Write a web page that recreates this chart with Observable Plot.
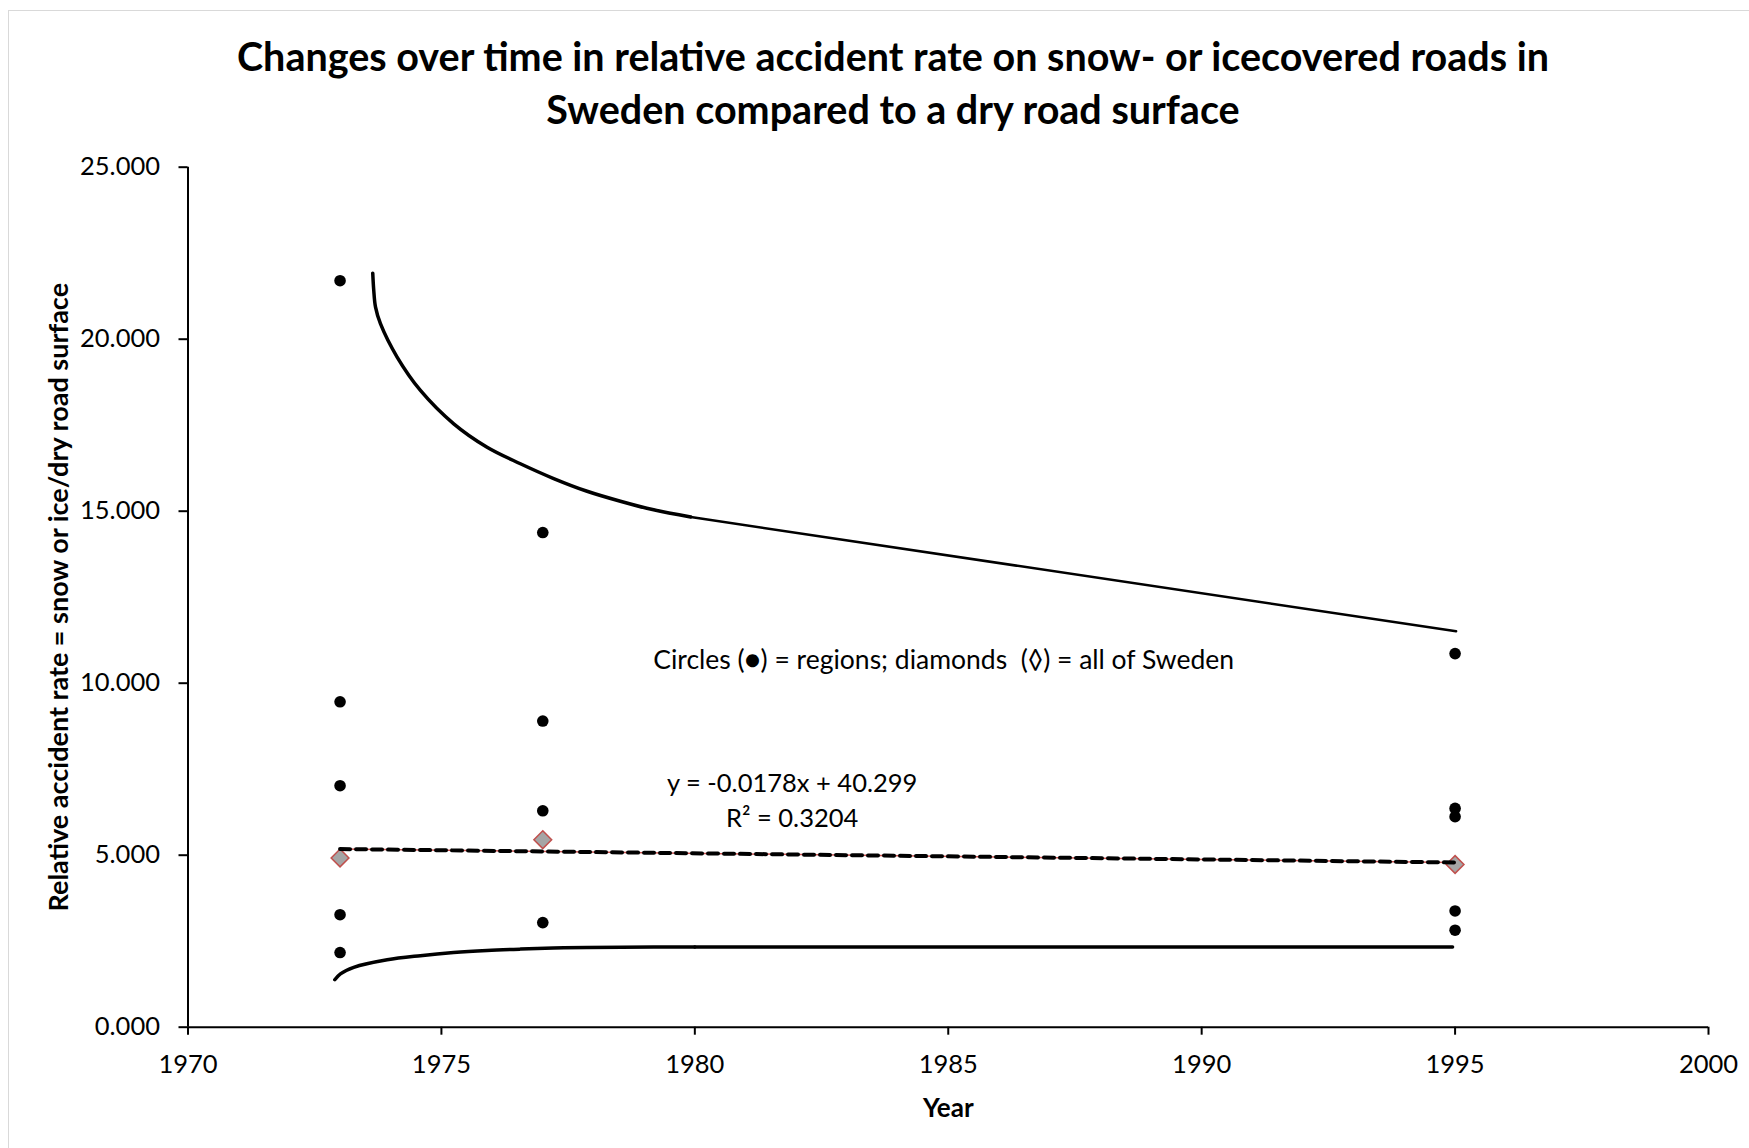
<!DOCTYPE html>
<html>
<head>
<meta charset="utf-8">
<script src="https://cdn.jsdelivr.net/npm/d3@7"></script>
<script src="https://cdn.jsdelivr.net/npm/@observablehq/plot@0.6"></script>
<style>
  html, body { margin: 0; padding: 0; background: #fff; }
  #chart { position: relative; width: 1749px; height: 1148px; overflow: hidden; background: #fff; font-family: Lato, "Open Sans", sans-serif; color: #000; }
  #frame { position: absolute; left: 8px; top: 10px; width: 1800px; height: 1200px; border: 1px solid #d9d9d9; }
  #title { position: absolute; left: 37px; top: 28.5px; width: 1712px; text-align: center; font-weight: 700; font-size: 39.5px; line-height: 53px; }
  #plot { position: absolute; left: 0; top: 140px; }
  #plot g[aria-label="x-axis label"] { font-weight: 700; font-size: 26px; }
  #plot g[aria-label="y-axis label"] { font-weight: 700; font-size: 27px; }
</style>
</head>
<body>
<div id="chart">
  <div id="frame"></div>
  <div id="title">Changes over time in relative accident rate on snow- or icecovered roads in<br>Sweden compared to a dry road surface</div>
  <div id="plot"></div>
</div>
<script>
// Regional relative accident rates (snow/ice vs. dry road)
const regionYears = [1973, 1973, 1973, 1973, 1973, 1977, 1977, 1977, 1977, 1995, 1995, 1995, 1995, 1995];
const regionRates = [21.70, 9.46, 7.02, 3.27, 2.17, 14.38, 8.90, 6.29, 3.04, 10.86, 6.36, 6.12, 3.38, 2.82];

// National (all of Sweden) relative accident rate
const swedenYears = [1973, 1977, 1995];
const swedenRates = [4.92, 5.45, 4.73];

// Linear trend fitted to the national values
const trendSlope = -0.0178;
const trendIntercept = 40.299;
const trendR2 = 0.3204;
const trendYears = [1973, 1995];

// Upper envelope: curved part, then straight part
const upperCurveYears = [1973.645, 1973.665, 1973.70, 1973.797, 1974.126, 1974.586, 1975.243, 1975.901, 1976.558, 1977.215, 1977.874, 1978.531, 1979.187, 1979.92];
const upperCurveRates = [21.92, 21.42, 20.93, 20.45, 19.48, 18.51, 17.54, 16.86, 16.38, 15.95, 15.58, 15.29, 15.04, 14.83];
const upperTailYears = [1979.92, 1995.02];
const upperTailRates = [14.83, 11.51];

// Lower envelope: curved part, then flat part
const lowerCurveYears = [1972.896, 1973.008, 1973.27, 1973.93, 1974.586, 1975.24, 1975.90, 1976.56, 1977.21, 1977.87, 1979.19, 1980.0];
const lowerCurveRates = [1.38, 1.55, 1.74, 1.96, 2.08, 2.17, 2.23, 2.27, 2.30, 2.32, 2.33, 2.33];
const lowerTailYears = [1980.0, 1994.95];
const lowerTailRates = [2.33, 2.33];

// Axis ticks
const xTicks = [1970, 1975, 1980, 1985, 1990, 1995, 2000];
const yTicks = [0, 5, 10, 15, 20, 25];

// Annotation texts
const noteText = "Circles (\u25CF) = regions; diamonds \u00A0(\u25CA) = all of Sweden";
const equationText = `y = ${trendSlope}x + ${trendIntercept}`;
const r2Text = `R\u00B2 = ${trendR2}`;

// Build tables for the marks
const zip = (ys, vs) => ys.map((year, i) => ({year, rate: vs[i]}));
const regions = zip(regionYears, regionRates);
const sweden = zip(swedenYears, swedenRates);
const trend = trendYears.map(year => ({year, rate: trendSlope * year + trendIntercept}));
const upperCurve = zip(upperCurveYears, upperCurveRates);
const upperTail = zip(upperTailYears, upperTailRates);
const lowerCurve = zip(lowerCurveYears, lowerCurveRates);
const lowerTail = zip(lowerTailYears, lowerTailRates);

// Where the annotations sit, in data coordinates
const placement = {
  note: {year: 1984.91, rate: 10.66},
  equation: {year: 1981.92, rate: 7.08},
  r2: {year: 1981.92, rate: 6.07}
};

const chart = Plot.plot({
  width: 1749,
  height: 1008,
  marginTop: 26.7,
  marginBottom: 121.3,
  marginLeft: 187.5,
  marginRight: 41,
  style: {fontFamily: "Lato, 'Open Sans', sans-serif", fontSize: "25.5px", color: "#000", background: "transparent"},
  x: {domain: [1970, 2000]},
  y: {domain: [0, 25]},
  marks: [
    Plot.axisX({ticks: xTicks, tickFormat: d3.format("d"), tickSize: 8, tickPadding: 20, strokeWidth: 2,
      label: "Year", labelAnchor: "center", labelArrow: "none", labelOffset: 90}),
    Plot.axisY({ticks: yTicks, tickFormat: d3.format(".3f"), tickSize: 9, tickPadding: 19, strokeWidth: 2,
      label: "Relative accident rate = snow or ice/dry road surface", labelAnchor: "center", labelArrow: "none", labelOffset: 139}),
    Plot.ruleX([1970], {y1: 0, y2: 25, stroke: "#000", strokeWidth: 2}),
    Plot.ruleY([0], {x1: 1970, x2: 2000, stroke: "#000", strokeWidth: 2}),
    Plot.line(upperCurve, {x: "year", y: "rate", curve: "catmull-rom", stroke: "#000", strokeWidth: 3.5}),
    Plot.line(upperTail, {x: "year", y: "rate", stroke: "#000", strokeWidth: 2.5}),
    Plot.line(lowerCurve, {x: "year", y: "rate", curve: "catmull-rom", stroke: "#000", strokeWidth: 3.5}),
    Plot.line(lowerTail, {x: "year", y: "rate", stroke: "#000", strokeWidth: 3.5}),
    Plot.dot(regions, {x: "year", y: "rate", r: 5.8, fill: "#000"}),
    Plot.dot(sweden, {x: "year", y: "rate", symbol: "diamond2", r: 8, fill: "#a5a5a5", stroke: "#c0504d", strokeWidth: 1.5}),
    Plot.line(trend, {x: "year", y: "rate", stroke: "#c0504d", strokeWidth: 1.5}),
    Plot.line(trend, {x: "year", y: "rate", stroke: "#000", strokeWidth: 4, strokeDasharray: "10,6"}),
    Plot.text([noteText], {x: () => placement.note.year, y: () => placement.note.rate, text: d => d, fontSize: 26.5}),
    Plot.text([equationText], {x: () => placement.equation.year, y: () => placement.equation.rate, text: d => d, fontSize: 25.5}),
    Plot.text([r2Text], {x: () => placement.r2.year, y: () => placement.r2.rate, text: d => d, fontSize: 25.5})
  ]
});
document.getElementById("plot").appendChild(chart);
</script>
</body>
</html>
